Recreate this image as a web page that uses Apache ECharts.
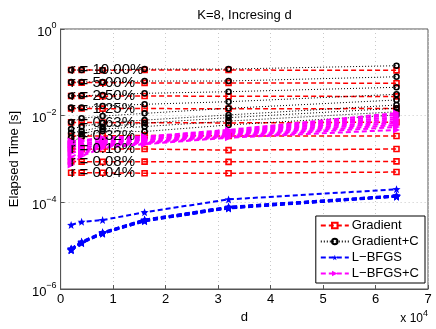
<!DOCTYPE html>
<html>
<head>
<meta charset="utf-8">
<script src="https://cdn.jsdelivr.net/npm/echarts@6/dist/echarts.min.js"></script>
<style>
  html, body { margin: 0; padding: 0; background: #fff; }
  #chart { width: 436px; height: 329px; }
</style>
</head>
<body>
<div id="chart"></div>
<script>
// d, in units of 10^4
const dValues = [0.2, 0.4, 0.8, 1.6, 3.2, 6.4];
const rLabels = ["r = 10.00%", "r = 5.00%", "r = 2.50%", "r = 1.25%", "r = 0.63%",
                 "r = 0.32%", "r = 0.16%", "r = 0.08%", "r = 0.04%"];
const seriesNames = ["Gradient", "Gradient+C", "L\u2212BFGS", "L\u2212BFGS+C"];
const xTicks = [0, 1, 2, 3, 4, 5, 6, 7];
const yTicks = [1e-6, 1e-4, 1e-2, 1];

// elapsed time [s], one row per r
const gradient = [
  [0.113, 0.113, 0.112, 0.113, 0.113, 0.111],
  [0.058, 0.058, 0.058, 0.057, 0.057, 0.056],
  [0.0284, 0.0284, 0.0282, 0.0285, 0.0280, 0.0278],
  [0.0146, 0.0146, 0.0145, 0.0146, 0.0144, 0.0146],
  [0.0070, 0.0070, 0.0069, 0.0069, 0.0068, 0.0071],
  [0.0034, 0.0034, 0.0034, 0.0035, 0.0034, 0.0034],
  [0.0017, 0.0017, 0.0017, 0.0017, 0.0016, 0.0017],
  [0.00087, 0.00087, 0.00086, 0.00087, 0.00086, 0.00088],
  [0.00048, 0.00048, 0.00048, 0.00047, 0.00047, 0.00050]
];
const gradientC = [
  [0.113, 0.113, 0.113, 0.119, 0.119, 0.142],
  [0.060, 0.060, 0.060, 0.063, 0.063, 0.079],
  [0.0289, 0.0289, 0.030, 0.0328, 0.0357, 0.0452],
  [0.0153, 0.0153, 0.0167, 0.0183, 0.021, 0.0311],
  [0.0071, 0.0087, 0.0098, 0.0113, 0.0148, 0.023],
  [0.0049, 0.0056, 0.0068, 0.0079, 0.0104, 0.0176],
  [0.0040, 0.0044, 0.0055, 0.0067, 0.0090, 0.0148],
  [0.0031, 0.0038, 0.0049, 0.0056, 0.0075, 0.0123],
  [0.0025, 0.0032, 0.0044, 0.0043, 0.0061, 0.0104]
];
const lbfgs = [
  [3.0e-5, 3.55e-5, 3.9e-5, 5.9e-5, 1.17e-4, 2.0e-4],
  [8.6e-6, 1.24e-5, 2.05e-5, 4.0e-5, 7.9e-5, 1.44e-4],
  [8.4e-6, 1.22e-5, 2.0e-5, 3.95e-5, 7.8e-5, 1.42e-4],
  [8.3e-6, 1.2e-5, 2.0e-5, 3.9e-5, 7.7e-5, 1.4e-4],
  [8.2e-6, 1.19e-5, 1.98e-5, 3.85e-5, 7.6e-5, 1.39e-4],
  [8.1e-6, 1.18e-5, 1.95e-5, 3.8e-5, 7.5e-5, 1.38e-4],
  [8.0e-6, 1.16e-5, 1.93e-5, 3.75e-5, 7.4e-5, 1.37e-4],
  [7.9e-6, 1.15e-5, 1.9e-5, 3.7e-5, 7.3e-5, 1.36e-4],
  [7.8e-6, 1.13e-5, 1.88e-5, 3.65e-5, 7.2e-5, 1.35e-4]
];
const lbfgsC = [
  [0.0026, 0.0027, 0.0031, 0.0033, 0.0047, 0.0115],
  [0.0023, 0.0025, 0.0029, 0.0032, 0.0044, 0.0104],
  [0.0021, 0.0022, 0.0026, 0.0030, 0.0042, 0.0093],
  [0.0019, 0.0020, 0.0024, 0.0028, 0.0040, 0.0084],
  [0.0016, 0.0018, 0.0022, 0.0027, 0.0038, 0.0075],
  [0.00137, 0.0016, 0.0021, 0.0025, 0.0036, 0.0068],
  [0.00111, 0.00145, 0.0020, 0.0024, 0.0034, 0.0061],
  [0.0009, 0.0013, 0.0019, 0.0023, 0.0032, 0.0055],
  [0.00073, 0.00117, 0.0018, 0.0022, 0.0031, 0.0047]
];

const FONT = "'Liberation Sans', Arial, Helvetica, sans-serif";
const STAR = "path://M5,0 L6.3,3.4 L10,3.6 L7.1,5.9 L8.1,9.6 L5,7.5 L1.9,9.6 L2.9,5.9 L0,3.6 L3.7,3.4 Z";
const TRI = "path://M0,0 L10,5 L0,10 Z";

const styles = [
  { color: "#ff0000", dash: [5, 3], width: 1.5, symbol: "rect", size: 5, hollow: true },
  { color: "#000000", dash: [1, 2], width: 1, symbol: "circle", size: 5, hollow: true },
  { color: "#0000ff", dash: [5, 3], width: 2, symbol: STAR, size: 8, hollow: false },
  { color: "#ff00ff", dash: [5, 3], width: 2, symbol: TRI, size: 7, hollow: false }
];

function makeSeries(rows, name, st, labels) {
  return rows.map(function (row, r) {
    return {
      name: name,
      type: "line",
      data: dValues.map(function (d, i) {
        const item = { value: [d, row[i]] };
        if (labels && i === 0) {
          item.label = {
            show: true,
            formatter: labels[r],
            position: "right",
            distance: -4,
            color: "#000",
            fontFamily: FONT,
            fontSize: 15
          };
        }
        return item;
      }),
      symbol: st.symbol,
      symbolSize: st.size,
      showSymbol: true,
      lineStyle: { color: st.color, width: st.width, type: st.dash },
      itemStyle: {
        color: st.hollow ? "rgba(255,255,255,0)" : st.color,
        borderColor: st.color,
        borderWidth: st.hollow ? 1.6 : 0
      },
      labelLayout: { hideOverlap: false },
      emphasis: { disabled: true },
      animation: false
    };
  });
}

function supLabel(base, exp) {
  return "{b|" + base + "}{s|" + (exp < 0 ? "\u2212" + (-exp) : exp) + "}";
}

const chart = echarts.init(document.getElementById("chart"));
chart.setOption({
  backgroundColor: "#fff",
  textStyle: { fontFamily: FONT },
  title: {
    text: "K=8, Incresing d",
    left: 239.5,
    textAlign: "center",
    top: 4,
    textStyle: { fontFamily: FONT, fontSize: 13, fontWeight: "normal", color: "#000" }
  },
  grid: {
    left: 51, right: 8, top: 29, bottom: 40,
    show: true, borderColor: "#555", borderWidth: 1, backgroundColor: "#fff"
  },
  legend: {
    data: seriesNames,
    orient: "vertical",
    right: 11,
    bottom: 46,
    backgroundColor: "#fff",
    borderColor: "#000",
    borderWidth: 1,
    borderRadius: 0,
    padding: [3, 6, 3, 4],
    itemGap: 3,
    itemWidth: 28,
    itemHeight: 7,
    textStyle: { fontFamily: FONT, fontSize: 13, color: "#000", padding: [0, 0, 0, -2] }
  },
  xAxis: {
    type: "value",
    min: xTicks[0],
    max: xTicks[xTicks.length - 1],
    interval: 1,
    name: "d",
    nameLocation: "middle",
    nameGap: 21,
    nameTextStyle: { fontFamily: FONT, fontSize: 13, color: "#000" },
    axisLine: { show: true, lineStyle: { color: "#555" } },
    axisTick: { show: true, inside: true, length: 4, lineStyle: { color: "#555" } },
    axisLabel: { fontFamily: FONT, fontSize: 13, color: "#000", margin: 4 },
    splitLine: { show: true, lineStyle: { color: "#c8c8c8", type: [1, 3] } }
  },
  yAxis: {
    type: "log",
    logBase: 100,
    min: yTicks[0],
    max: yTicks[yTicks.length - 1],
    name: "Elapsed Time [s]",
    nameLocation: "middle",
    nameGap: 31,
    nameTextStyle: { fontFamily: FONT, fontSize: 13, color: "#000" },
    axisLine: { show: true, lineStyle: { color: "#555" } },
    axisTick: { show: true, inside: true, length: 4, lineStyle: { color: "#555" } },
    axisLabel: {
      margin: 4,
      formatter: function (v) { return supLabel(10, Math.round(Math.log10(v))); },
      rich: {
        b: { fontFamily: FONT, fontSize: 13, color: "#000", padding: [6, 0, 0, 0] },
        s: { fontFamily: FONT, fontSize: 9, color: "#000", padding: [0, 0, 6, 0] }
      }
    },
    splitLine: { show: true, lineStyle: { color: "#c8c8c8", type: [1, 3] } }
  },
  graphic: [{
    type: "text",
    right: 8,
    bottom: 4,
    z: 100,
    style: {
      rich: {
        b: { fontFamily: FONT, fontSize: 12, fill: "#000", padding: [5, 0, 0, 0] },
        s: { fontFamily: FONT, fontSize: 9, fill: "#000", padding: [0, 0, 5, 0] }
      },
      text: "{b|x 10}{s|4}"
    }
  }],
  series: [].concat(
    makeSeries(gradient, seriesNames[0], styles[0], rLabels),
    makeSeries(gradientC, seriesNames[1], styles[1]),
    makeSeries(lbfgs, seriesNames[2], styles[2]),
    makeSeries(lbfgsC, seriesNames[3], styles[3])
  )
});
</script>
</body>
</html>
